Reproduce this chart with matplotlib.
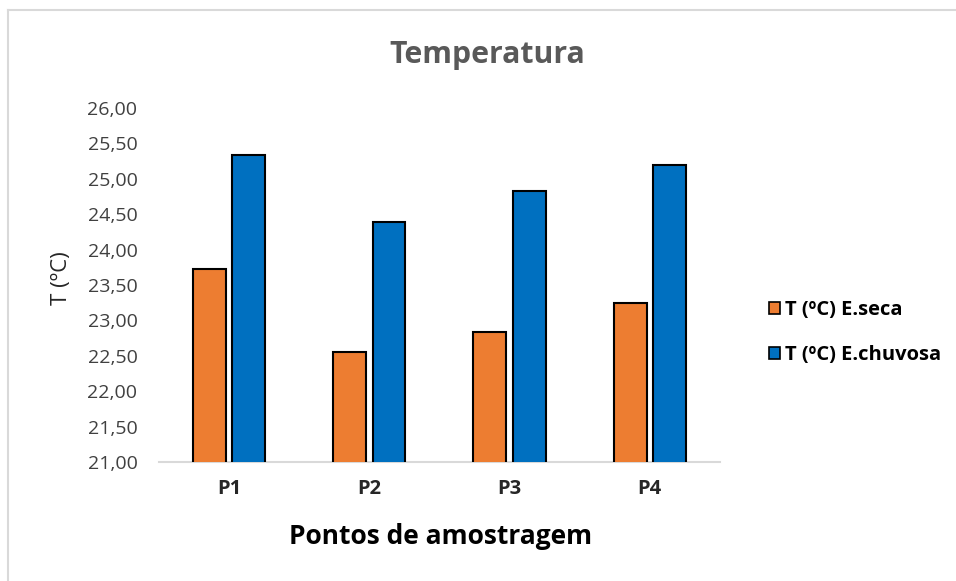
import matplotlib.pyplot as plt
import numpy as np
from matplotlib.lines import Line2D

plt.rcParams['font.family'] = ['Open Sans', 'DejaVu Sans']

pontos = ['P1', 'P2', 'P3', 'P4']
t_seca = [23.72, 22.55, 22.83, 23.24]
t_chuvosa = [25.34, 24.39, 24.83, 25.20]
yticks = [21.0, 21.5, 22.0, 22.5, 23.0, 23.5, 24.0, 24.5, 25.0, 25.5, 26.0]

fig = plt.figure(figsize=(9.56, 5.81), dpi=100)
ax = fig.add_axes([0.1663, 0.2048, 0.5868, 0.6093])

x = np.arange(len(pontos))
w = 0.235
ax.bar(x - 0.14, t_seca, w, color='#ED7D31', edgecolor='black', linewidth=1.5,
       label='T (ºC) E.seca', zorder=3)
ax.bar(x + 0.14, t_chuvosa, w, color='#0070C0', edgecolor='black', linewidth=1.5,
       label='T (ºC) E.chuvosa', zorder=3)

ax.set_xlim(-0.5, 3.5)
ax.set_ylim(21, 26)
ax.set_yticks(yticks)
ax.set_yticklabels([f'{v:.2f}'.replace('.', ',') for v in yticks], fontsize=14, color='#404040')
ax.set_xticks(x)
ax.set_xticklabels(pontos, fontsize=14.5, fontweight='bold', color='#262626')
ax.tick_params(length=0)
ax.tick_params(axis='x', pad=12)
ax.tick_params(axis='y', pad=15.5)

for s in ['top', 'right', 'left']:
    ax.spines[s].set_visible(False)
ax.spines['bottom'].set_color('#d9d9d9')
ax.spines['bottom'].set_linewidth(1.5)

ax.set_ylabel('T (ºC)', fontsize=16, color='#262626')
ax.yaxis.set_label_coords(-0.155, 0.52)
fig.text(0.461, 0.076, 'Pontos de amostragem', fontsize=19, fontweight='bold',
         ha='center', va='center', color='black')
fig.text(0.51, 0.905, 'Temperatura', fontsize=21.8, fontweight='bold',
         ha='center', va='center', color='#595959')

leg = fig.legend(loc='center left', bbox_to_anchor=(0.785, 0.427), frameon=False,
                 prop={'size': 14.5, 'weight': 'bold'}, handlelength=0.55,
                 handleheight=0.55, handletextpad=0.25, labelspacing=1.25)
for h in leg.legend_handles:
    h.set_linewidth(1.2)

# chart area border (left and top)
fig.add_artist(Line2D([8 / 956, 8 / 956], [0, 1 - 10 / 581], transform=fig.transFigure,
                      color='#d9d9d9', linewidth=1.5))
fig.add_artist(Line2D([8 / 956, 1], [1 - 10 / 581, 1 - 10 / 581], transform=fig.transFigure,
                      color='#d9d9d9', linewidth=1.5))

plt.savefig('out.png', dpi=100)
